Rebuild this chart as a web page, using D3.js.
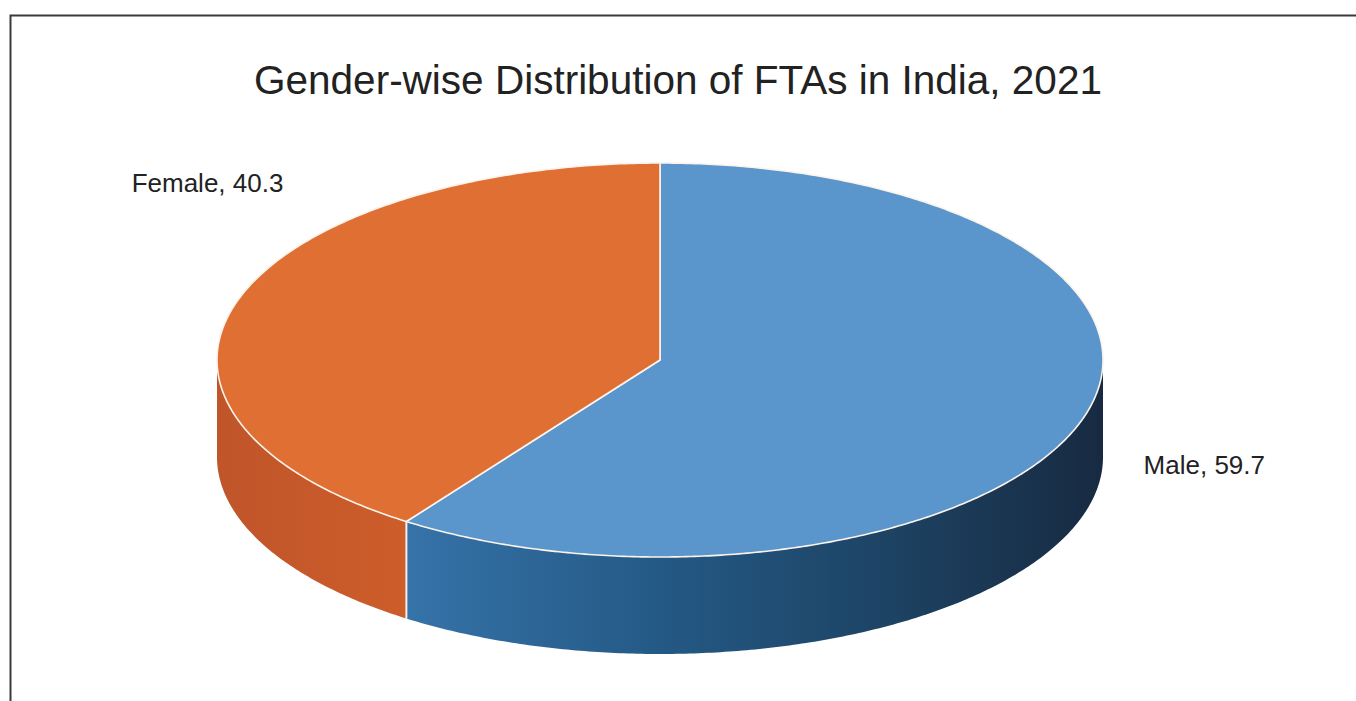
<!DOCTYPE html>
<html>
<head>
<meta charset="utf-8">
<script src="https://cdn.jsdelivr.net/npm/d3@7"></script>
<style>
  html, body { margin: 0; padding: 0; background: #fff; }
  svg { display: block; font-family: "Liberation Sans", Arial, sans-serif; }
</style>
</head>
<body>
<svg id="chart" width="1356" height="701"></svg>
<script>
// Chart data
const title = "Gender-wise Distribution of FTAs in India, 2021";
const categories = ["Male", "Female"];
const values = [59.7, 40.3];

// Colours per slice: top face, side gradient stops
const topColors = ["#5a96cb", "#df6f32"];
const sideStops = [
  [["0%", "#3673a9"], ["35%", "#245a86"], ["65%", "#1e4668"], ["100%", "#172a41"]],
  [["0%", "#c0552a"], ["100%", "#cd5d2a"]]
];
// label nudges relative to the slice mid point on the rim
const labelNudge = [[61, 55, "start"], [46, -109, "end"]];

const W = 1356, H = 701;
const cx = 660, cy = 360, rx = 443, ry = 197, depth = 97;

const svg = d3.select("#chart");
const defs = svg.append("defs");

// Frame (only top and left edges are visible in the crop)
svg.append("path")
  .attr("d", `M10.5,${H} V15.5 H${W}`)
  .attr("fill", "none")
  .attr("stroke", "#3a3a3a")
  .attr("stroke-width", 2);

svg.append("text")
  .attr("x", 678)
  .attr("y", 94)
  .attr("text-anchor", "middle")
  .attr("font-size", 40.5)
  .attr("fill", "#222")
  .text(title);

const data = categories.map((c, i) => ({ name: c, value: values[i], i }));
const pie = d3.pie().sort(null).value(d => d.value);
const arcs = pie(data);

// angle 0 at 12 o'clock, clockwise, like d3.pie
const pt = (a, dz) => [cx + rx * Math.sin(a), cy - ry * Math.cos(a) + dz];
function rim(a0, a1, dz) {
  const n = Math.max(2, Math.ceil(Math.abs(a1 - a0) / 0.01));
  return d3.range(n + 1).map(k => pt(a0 + (a1 - a0) * k / n, dz));
}
const line = d3.line();

// side gradients
arcs.forEach((d, i) => {
  const g = defs.append("linearGradient")
    .attr("id", "side" + i)
    .attr("gradientUnits", "userSpaceOnUse")
    .attr("x1", i === 0 ? pt(d.endAngle, 0)[0] : cx - rx)
    .attr("x2", i === 0 ? cx + rx : pt(d.startAngle, 0)[0])
    .attr("y1", 0).attr("y2", 0);
  sideStops[i].forEach(s => g.append("stop").attr("offset", s[0]).attr("stop-color", s[1]));
});

// front sides (visible between 90deg and 270deg)
const sides = svg.append("g");
arcs.forEach((d, i) => {
  const a0 = Math.max(d.startAngle, Math.PI / 2);
  const a1 = Math.min(d.endAngle, Math.PI * 1.5);
  if (a1 <= a0) return;
  const pts = rim(a0, a1, 0).concat(rim(a1, a0, depth));
  sides.append("path")
    .attr("d", line(pts) + "Z")
    .attr("fill", `url(#side${i})`)
    .attr("stroke", "none");
});
// split line on the side
arcs.forEach(d => {
  [d.startAngle, d.endAngle].forEach(a => {
    if (a > Math.PI / 2 && a < Math.PI * 1.5) {
      const p0 = pt(a, 0), p1 = pt(a, depth);
      sides.append("line")
        .attr("x1", p0[0]).attr("y1", p0[1])
        .attr("x2", p1[0]).attr("y2", p1[1])
        .attr("stroke", "#f4f0ea").attr("stroke-width", 1.6);
    }
  });
});

// top faces
const tops = svg.append("g");
arcs.forEach((d, i) => {
  const pts = [[cx, cy]].concat(rim(d.startAngle, d.endAngle, 0));
  tops.append("path")
    .attr("d", line(pts) + "Z")
    .attr("fill", topColors[i])
    .attr("stroke", "#fbf3ec")
    .attr("stroke-width", 1.6)
    .attr("stroke-linejoin", "round");
});

// labels
arcs.forEach((d, i) => {
  const m = (d.startAngle + d.endAngle) / 2;
  const p = pt(m, 0);
  svg.append("text")
    .attr("x", p[0] + labelNudge[i][0])
    .attr("y", p[1] + labelNudge[i][1])
    .attr("text-anchor", labelNudge[i][2])
    .attr("font-size", 26)
    .attr("fill", "#222")
    .text(`${d.data.name}, ${d3.format(".1f")(d.data.value)}`);
});
</script>
</body>
</html>
